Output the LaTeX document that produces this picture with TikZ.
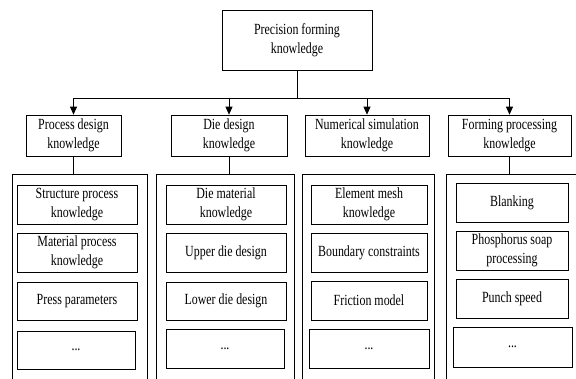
\documentclass[tikz,border=0pt]{standalone}
\usepackage{fontspec}
\setmainfont[FakeStretch=0.77]{Liberation Serif}
\usetikzlibrary{arrows.meta, positioning}

\begin{document}
\begin{tikzpicture}[x=1pt, y=-1pt, >={Triangle[length=8pt,width=7pt]}, line width=0.7pt,
    box/.style={draw, rectangle, fill=white, align=center, inner sep=1pt, font=\fontsize{15.5}{19}\selectfont},
    column/.style={draw, rectangle, anchor=north west, minimum height=220pt}]
    \useasboundingbox (0,0) rectangle (576,378);
    \clip (0,0) rectangle (576,378);

    % Root
    \node (root) [box, minimum width=150pt, minimum height=60pt] at (297,40) {Precision forming\\knowledge};

    % Second level
    \node (proc) [box, minimum width=95pt, minimum height=41pt] at (73.5,135.5) {Process design\\knowledge};
    \node (die) [box, minimum width=116pt, minimum height=41pt] at (229,135.5) {Die design\\knowledge};
    \node (num) [box, minimum width=124pt, minimum height=41pt] at (367,135.5) {Numerical simulation\\knowledge};
    \node (form) [box, minimum width=123pt, minimum height=41pt] at (509.5,135.5) {Forming processing\\knowledge};

    % Bus and arrows
    \coordinate (bus) at (297,98);
    \draw (root.south) -- (bus);
    \draw (proc.north |- bus) -- (form.north |- bus);
    \draw [->] (proc.north |- bus) -- (proc.north);
    \draw [->] (die.north |- bus) -- (die.north);
    \draw [->] (num.north |- bus) -- (num.north);
    \draw [->] (form.north |- bus) -- (form.north);

    % Columns
    \node (col1) [column, minimum width=135pt] at (12,174) {};
    \node (col2) [column, minimum width=138pt] at (156,174) {};
    \node (col3) [column, minimum width=132pt] at (302,174) {};
    \node (col4) [column, minimum width=154pt] at (446,174) {};
    \draw (proc.south) -- (proc.south |- col1.north);
    \draw (die.south) -- (die.south |- col2.north);
    \draw (form.south) -- (form.south |- col4.north);

    % Process design
    \node (proc1) [box, minimum width=120pt, minimum height=39pt] at (77,204.5) {Structure process\\knowledge};
    \node (proc2) [box, minimum width=120pt, minimum height=39pt] at (77,252.5) {Material process\\knowledge};
    \node (proc3) [box, minimum width=120pt, minimum height=38pt] at (77,301) {Press parameters};
    \node (proc4) [box, minimum width=118pt, minimum height=38pt] at (76,350) {...};

    % Die design
    \node (die1) [box, minimum width=120pt, minimum height=39pt] at (226,204.5) {Die material\\knowledge};
    \node (die2) [box, minimum width=120pt, minimum height=39pt] at (226,252.5) {Upper die design};
    \node (die3) [box, minimum width=120pt, minimum height=38pt] at (226,301) {Lower die design};
    \node (die4) [box, minimum width=118pt, minimum height=39pt] at (225,348.5) {...};

    % Numerical simulation
    \node (num1) [box, minimum width=116pt, minimum height=39pt] at (369,204.5) {Element mesh\\knowledge};
    \node (num2) [box, minimum width=116pt, minimum height=39pt] at (369,252.5) {Boundary constraints};
    \node (num3) [box, minimum width=116pt, minimum height=39pt] at (369,300.5) {Friction model};
    \node (num4) [box, minimum width=120pt, minimum height=39pt] at (369,348.5) {...};

    % Forming processing
    \node (form1) [box, minimum width=112pt, minimum height=39pt] at (512,202.5) {Blanking};
    \node (form2) [box, minimum width=112pt, minimum height=39pt] at (512,250.5) {Phosphorus soap\\processing};
    \node (form3) [box, minimum width=112pt, minimum height=39pt] at (512,298.5) {Punch speed};
    \node (form4) [box, minimum width=119pt, minimum height=40pt] at (512.5,347) {...};
\end{tikzpicture}
\end{document}
